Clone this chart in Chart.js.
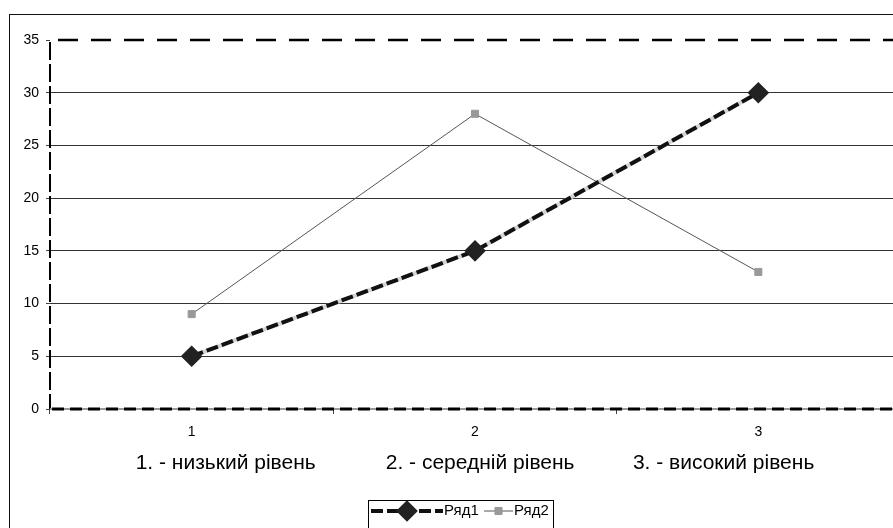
<!DOCTYPE html>
<html>
<head>
<meta charset="utf-8">
<script src="https://cdn.jsdelivr.net/npm/chart.js@4/dist/chart.umd.min.js"></script>
<style>
  html, body { margin: 0; padding: 0; background: #fff; overflow: hidden; }
  #wrap { position: relative; width: 915px; height: 528px; overflow: hidden; }
  #frame { position: absolute; left: 9px; top: 14px; width: 900px; height: 530px; border: 1.5px solid #111; box-sizing: border-box; }
  #c { position: absolute; left: 0; top: 0; width: 912px; height: 528px; }
</style>
</head>
<body>
<div id="wrap">
  <div id="frame"></div>
  <canvas id="c" width="912" height="528"></canvas>
</div>
<script>
// chart data
const categories = ['1', '2', '3'];
const series1 = [5, 15, 30];
const series2 = [9, 28, 13];
const seriesNames = ['Ряд1', 'Ряд2'];
const levelNames = ['1. - низький рівень', '2. - середній рівень', '3. - високий рівень'];
const yMin = 0, yMax = 35, yStep = 5;

const FONT = '"Liberation Sans", Arial, sans-serif';

// dashed frame lines of the plot + light underlay for Ряд1
const plotLines = {
    id: 'plotLines',
    beforeDatasetsDraw(chart) {
        const ctx = chart.ctx;
        const pts = chart.getDatasetMeta(0).data;
        ctx.save();
        ctx.strokeStyle = '#d4d4d4';
        ctx.lineWidth = 4;
        ctx.beginPath();
        pts.forEach((p, i) => i ? ctx.lineTo(p.x, p.y) : ctx.moveTo(p.x, p.y));
        ctx.stroke();
        ctx.restore();
    },
    afterDraw(chart) {
        const ctx = chart.ctx;
        const area = chart.chartArea;
        const y = chart.scales.y;
        const top = y.getPixelForValue(yMax);
        const bot = y.getPixelForValue(yMin);
        ctx.save();
        // left axis: black dashes
        ctx.strokeStyle = '#000';
        ctx.lineWidth = 2;
        ctx.setLineDash([18, 4]);
        ctx.beginPath(); ctx.moveTo(area.left, top + 2); ctx.lineTo(area.left, bot); ctx.stroke();
        // bottom: grey line with black dashes
        ctx.setLineDash([]);
        ctx.strokeStyle = '#9a9a9a';
        ctx.lineWidth = 2;
        ctx.beginPath(); ctx.moveTo(area.left, bot); ctx.lineTo(area.right, bot); ctx.stroke();
        ctx.strokeStyle = '#000';
        ctx.lineWidth = 3;
        ctx.setLineDash([12, 6]);
        ctx.beginPath(); ctx.moveTo(area.left + 2, bot); ctx.lineTo(area.right, bot); ctx.stroke();
        // top: black dashes
        ctx.lineWidth = 2.5;
        ctx.setLineDash([20, 13]);
        ctx.beginPath(); ctx.moveTo(area.left + 8, top); ctx.lineTo(area.right, top); ctx.stroke();
        ctx.restore();
    }
};

// boxed legend at the bottom, like the original
const boxLegend = {
    id: 'boxLegend',
    afterDraw(chart) {
        const ctx = chart.ctx;
        const items = [
            { x1: 371, x2: 443, tx: 444 },
            { x1: 484, x2: 513, tx: 514 }
        ];
        const cy = 511;
        ctx.save();
        ctx.strokeStyle = '#000';
        ctx.lineWidth = 1;
        ctx.strokeRect(368.5, 500.5, 185, 30);
        chart.data.datasets.forEach((ds, i) => {
            const it = items[i];
            ctx.strokeStyle = ds.borderColor;
            ctx.lineWidth = ds.borderWidth;
            ctx.setLineDash(ds.borderDash || []);
            ctx.beginPath(); ctx.moveTo(it.x1, cy); ctx.lineTo(it.x2, cy); ctx.stroke();
            ctx.setLineDash([]);
            ctx.fillStyle = ds.pointBackgroundColor;
            ctx.strokeStyle = ds.pointBorderColor;
            Chart.helpers.drawPoint(ctx, {
                pointStyle: ds.pointStyle, radius: ds.pointRadius, borderWidth: 1, rotation: 0
            }, (it.x1 + it.x2) / 2, cy);
            ctx.fillStyle = '#000';
            ctx.font = '15px ' + FONT;
            ctx.textBaseline = 'middle';
            ctx.fillText(ds.label, it.tx, cy);
        });
        ctx.restore();
    }
};

new Chart(document.getElementById('c'), {
    type: 'line',
    data: {
        labels: categories,
        datasets: [
            {
                label: seriesNames[0],
                data: series1,
                borderColor: '#111',
                borderWidth: 4,
                borderDash: [12, 4],
                pointStyle: 'rectRot',
                pointRadius: 8,
                pointBackgroundColor: '#222',
                pointBorderColor: '#222',
                tension: 0
            },
            {
                label: seriesNames[1],
                data: series2,
                borderColor: '#555',
                borderWidth: 1,
                pointStyle: 'rect',
                pointRadius: 5,
                pointBackgroundColor: '#999',
                pointBorderColor: '#999',
                tension: 0
            }
        ]
    },
    options: {
        responsive: false,
        animation: false,
        devicePixelRatio: 1,
        layout: { padding: { left: 0, right: 5, top: 40, bottom: 39 } },
        plugins: { legend: { display: false }, tooltip: { enabled: false } },
        scales: {
            x: {
                offset: true,
                afterFit: s => { s.height = 80; },
                grid: { offset: true, drawOnChartArea: false, tickLength: 5, tickColor: '#444' },
                border: { display: false },
                ticks: { color: '#000', padding: 10, font: { family: FONT, size: 14 } },
                title: {
                    display: true,
                    text: levelNames[0] + ' '.repeat(12) + levelNames[1] + ' '.repeat(10) + levelNames[2],
                    color: '#000',
                    font: { family: FONT, size: 21 },
                    padding: { top: 0, bottom: 13 }
                }
            },
            y: {
                min: yMin,
                max: yMax,
                afterFit: s => { s.width = 50; },
                ticks: { stepSize: yStep, color: '#000', padding: 7, font: { family: FONT, size: 14 } },
                grid: {
                    color: c => (c.tick.value === yMin || c.tick.value === yMax) ? 'rgba(0,0,0,0)' : '#333',
                    lineWidth: 1,
                    tickLength: 4,
                    tickColor: '#444'
                },
                border: { display: false }
            }
        }
    },
    plugins: [plotLines, boxLegend]
});
</script>
</body>
</html>
